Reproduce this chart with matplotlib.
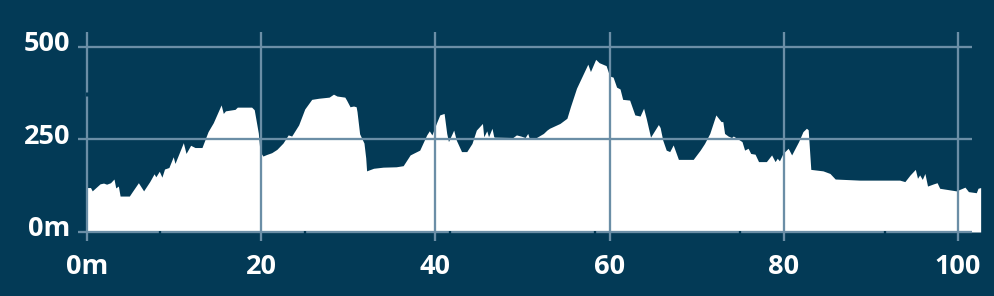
import matplotlib
matplotlib.use("Agg")
import matplotlib.pyplot as plt
from matplotlib import font_manager

# ---------------- data ----------------
distance_km = [
    0.0, 0.4, 0.6, 1.5, 1.9, 2.25, 2.7, 3.1, 3.3, 3.6, 3.8, 4.86, 5.2, 5.9, 6.5,
    7.2, 7.7, 7.9, 8.3, 8.6, 8.9, 9.4, 9.9, 10.1, 11.06, 11.37, 11.9, 12.4, 13.2,
    13.9, 14.5, 15.4, 15.65, 15.9, 17.0, 17.26, 18.9, 19.2, 19.67, 19.86, 20.2,
    20.6, 21.2, 21.8, 22.5, 23.1, 23.5, 24.3, 25.0, 25.8, 26.6, 27.8, 28.3, 28.7,
    29.6, 29.8, 30.2, 30.6, 30.9, 31.0, 31.3, 31.8, 32.0, 32.1, 32.9, 34.0, 35.5,
    36.3, 37.1, 37.6, 38.2, 39.0, 39.3, 39.6, 40.1, 40.5, 41.0, 41.3, 41.5, 42.1,
    42.4, 43.0, 43.6, 44.2, 44.7, 45.4, 45.55, 45.9, 46.1, 46.5, 46.7, 46.8, 48.9,
    49.3, 49.8, 50.3, 50.6, 50.75, 51.6, 52.4, 52.8, 53.1, 54.3, 55.1, 55.5, 56.2,
    57.0, 57.5, 57.8, 58.4, 58.8, 59.6, 60.0, 60.4, 60.8, 61.2, 61.5, 62.3, 62.9,
    63.5, 63.9, 64.2, 64.7, 65.6, 65.8, 66.1, 66.5, 66.9, 67.3, 67.9, 69.6, 70.4,
    70.9, 71.5, 72.2, 72.8, 73.0, 73.2, 73.6, 74.0, 74.2, 75.2, 75.5, 75.9, 76.2,
    76.7, 77.1, 78.0, 78.6, 79.0, 79.25, 79.5, 79.9, 80.5, 80.9, 81.7, 82.2, 82.6,
    82.8, 83.1, 84.5, 85.3, 85.9, 88.7, 93.3, 93.9, 94.5, 95.1, 95.35, 95.6, 95.9,
    96.2, 96.5, 97.2, 97.6, 97.9, 99.8, 100.8, 101.2, 102.1, 102.3, 102.6,
]
elevation_m = [
    120, 120, 111, 130, 132, 129, 133, 143, 119, 124, 97, 97, 109, 133, 111,
    136, 157, 149, 164, 148, 170, 174, 203, 185, 241, 212, 234, 228, 228,
    271, 295, 343, 320, 327, 331, 337, 337, 330, 267, 217, 205,
    209, 214, 223, 240, 262, 259, 289, 332, 358, 361, 364, 372, 367,
    364, 356, 338, 340, 338, 325, 265, 240, 200, 165, 172, 175, 176,
    179, 208, 214, 221, 262, 273, 262, 293, 316, 320, 266, 244, 275,
    248, 217, 217, 239, 275, 293, 257, 273, 257, 280, 257, 256, 255,
    262, 259, 255, 266, 255, 255, 266, 275, 280, 293, 307, 338, 388,
    428, 453, 433, 466, 457, 449, 421, 418, 391, 386, 358, 356, 316,
    313, 334, 307, 256, 290, 282, 248, 221, 217, 235, 196, 196, 221,
    239, 266, 316, 298, 298, 266, 259, 255, 259, 244, 221, 226, 212,
    210, 190, 190, 208, 190, 199, 192, 212, 226, 208, 244, 271, 280,
    276, 169, 165, 158, 143, 140, 140, 136, 154, 169, 145, 154, 142,
    158, 124, 130, 133, 118, 111, 121, 109, 106, 118, 120,
]
xtick_values = [0, 20, 40, 60, 80, 100]
xtick_labels = ["0m", "20", "40", "60", "80", "100"]
ytick_values = [0, 250, 500]
ytick_labels = ["0m", "250", "500"]
baseline_marks = [8.33, 25, 41.67, 58.33, 75, 91.67]

# ---------------- style ----------------
BG = "#033a56"
GRID = "#6b8ea6"
W, H, DPI = 994, 296, 100

avail = {f.name for f in font_manager.fontManager.ttflist}
FAMILY = [f for f in ["Open Sans", "Lato", "DejaVu Sans"] if f in avail]

fig = plt.figure(figsize=(W / DPI, H / DPI), dpi=DPI, facecolor=BG)

# pixel mapping: x -> 87 + 8.71*x ; y -> 232 - 0.3705*y (from top)
x0px, sx = 87.0, 8.71
y0px, sy = 232.0, 0.3705
xlim = (-3.0, 104.0)
ylim = (-40.0, 560.0)
left_px = x0px + sx * xlim[0]
right_px = x0px + sx * xlim[1]
top_px = y0px - sy * ylim[1]
bot_px = y0px - sy * ylim[0]
ax = fig.add_axes([left_px / W, 1 - bot_px / H,
                   (right_px - left_px) / W, (bot_px - top_px) / H])
ax.set_xlim(*xlim)
ax.set_ylim(*ylim)
ax.set_facecolor(BG)
ax.axis("off")

ax.fill_between(distance_km, elevation_m, 0, color="white", linewidth=0, zorder=1)

lw = 2.3 * 72 / DPI
gx0, gx1 = -1.0, 101.57
gy0, gy1 = -24.0, 539.0
for yv in ytick_values:
    ax.plot([gx0, gx1], [yv, yv], color=GRID, lw=lw, zorder=2, solid_capstyle="butt")
for xv in xtick_values:
    ax.plot([xv, xv], [gy0, gy1], color=GRID, lw=lw, zorder=2, solid_capstyle="butt")
# small gap in the leftmost vertical line
ax.plot([0, 0], [367, 378], color=BG, lw=lw + 0.5, zorder=2.5, solid_capstyle="butt")

for m in baseline_marks:
    ax.plot([m, m], [-6, 2], color=BG, lw=lw, zorder=3, solid_capstyle="butt")

fs = 19.5
for xv, lab in zip(xtick_values, xtick_labels):
    ax.text(xv, (y0px - 267) / sy, lab, ha="center", va="center", color="white",
            fontsize=fs, fontweight="bold", family=FAMILY, clip_on=False)
for yv, lab in zip(ytick_values, ytick_labels):
    ax.text((70.5 - x0px) / sx, yv + 2.5 / sy, lab, ha="right", va="center",
            color="white", fontsize=fs, fontweight="bold", family=FAMILY,
            clip_on=False)

fig.savefig("out.png", dpi=DPI, facecolor=BG)
